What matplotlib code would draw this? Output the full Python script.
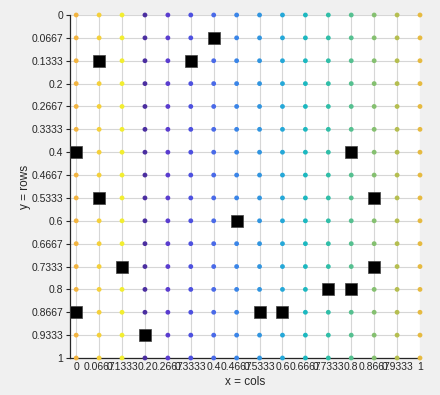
import numpy as np
import matplotlib
matplotlib.use("Agg")
import matplotlib.pyplot as plt

n = 16
grid_vals = [i / 15 for i in range(n)]
col_colors = ["#f2b440", "#f5d03a", "#f2ee30", "#4b2ea0", "#5a3ccf", "#4d50e0",
              "#4a6ae8", "#3a85e8", "#3095e0", "#25a8d8", "#1cb8c0", "#30bea8",
              "#55c090", "#85c070", "#b5be50", "#e6ba40"]
# black square positions (column index, row index)
sq_cols = [6, 1, 5, 0, 12, 1, 13, 7, 2, 13, 11, 12, 0, 8, 9, 3]
sq_rows = [1, 2, 2, 6, 6, 8, 8, 9, 11, 11, 12, 12, 13, 13, 13, 14]
tick_labels = ["0", "0.0667", "0.1333", "0.2", "0.2667", "0.3333", "0.4", "0.4667",
               "0.5333", "0.6", "0.6667", "0.7333", "0.8", "0.8667", "0.9333", "1"]

plt.rcParams['font.family'] = ['Liberation Sans', 'DejaVu Sans']
fig = plt.figure(figsize=(4.4, 3.95), dpi=100, facecolor="#f0f0f0")
ax = fig.add_axes([70/440, 37/395, 350/440, 343/395])
ax.set_facecolor("white")

xs, ys, cs = [], [], []
for ci, xv in enumerate(grid_vals):
    for yv in grid_vals:
        xs.append(xv); ys.append(yv); cs.append(col_colors[ci])
ax.scatter(xs, ys, s=12, c=cs, zorder=3, linewidths=0, clip_on=False)

sx = [grid_vals[c] for c in sq_cols]
sy = [grid_vals[r] for r in sq_rows]
ax.scatter(sx, sy, s=64, marker='s', c='black', edgecolors='#444444', linewidths=0.5,
           zorder=4, clip_on=False)

ax.set_xlim(-0.018, 1)
ax.set_ylim(1, 0)
ax.set_xticks(grid_vals)
ax.set_xticklabels(tick_labels)
ax.set_yticks(grid_vals)
ax.set_yticklabels(tick_labels)
ax.grid(True, color="#d6d6d6", linewidth=0.8, zorder=0)
ax.set_axisbelow(True)
ax.tick_params(direction='out', length=3, width=0.8, labelsize=7.5, pad=2, colors='#262626')
ax.tick_params(axis='x', length=0, pad=3)
for s in ['top', 'right']:
    ax.spines[s].set_visible(False)
for s in ['left', 'bottom']:
    ax.spines[s].set_color('#262626')
    ax.spines[s].set_linewidth(0.9)
ax.set_xlabel("x = cols", fontsize=8.5, color='#262626', labelpad=3)
ax.set_ylabel("y = rows", fontsize=8.5, color='#262626', labelpad=0)
fig.savefig("out.png", dpi=100, facecolor=fig.get_facecolor())
